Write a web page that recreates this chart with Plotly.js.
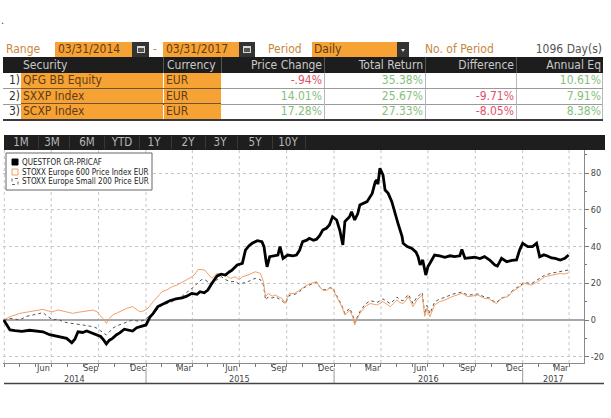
<!DOCTYPE html>
<html><head><meta charset="utf-8">
<script src="https://cdn.plot.ly/plotly-3.0.1.min.js"></script>
<style>
html,body{margin:0;padding:0;background:#fff;}
body{width:611px;height:418px;overflow:hidden;position:relative;font-family:'DejaVu Sans Condensed','DejaVu Sans',sans-serif;}
#chart{position:absolute;left:0;top:0;width:611px;height:418px;}
#hdr{position:absolute;left:0;top:0;width:611px;height:152px;pointer-events:none;}
.a{position:absolute;white-space:nowrap;box-sizing:border-box;overflow:hidden;}
</style></head><body>
<div id="chart"></div>
<div id="hdr"></div>
<script>
// ---------- header / table data ----------
const rangeStartLabel = '03/31/2014';
const rangeEndLabel = '03/31/2017';
const periodLabel = 'Daily';
const periodCount = '1096 Day(s)';
const tableHeaders = ['Security','Currency','Price Change','Total Return','Difference','Annual Eq'];
const securities = ['QFG BB Equity','SXXP Index','SCXP Index'];
const currencies = ['EUR','EUR','EUR'];
const priceChange = ['-.94%','14.01%','17.28%'];
const totalReturn = ['35.38%','25.67%','27.33%'];
const difference = ['','-9.71%','-8.05%'];
const annualEq = ['10.61%','7.91%','8.38%'];
const tabLabels = ['1M','3M','6M','YTD','1Y','2Y','3Y','5Y','10Y'];

// ---------- chart data ----------
const seriesNames = ['QUESTFOR GR-PRICAF','STOXX Europe 600 Price Index EUR','STOXX Europe Small 200 Price EUR'];
const questforDates = ['2014-03-31','2014-04-06','2014-04-12','2014-04-22','2014-05-05','2014-05-20','2014-06-03','2014-06-15','2014-06-28','2014-07-12','2014-07-22','2014-07-31','2014-08-10','2014-08-16','2014-08-22','2014-08-31','2014-09-08','2014-09-18','2014-09-28','2014-10-05','2014-10-11','2014-10-16','2014-10-22','2014-10-28','2014-11-05','2014-11-11','2014-11-20','2014-11-30','2014-12-06','2014-12-14','2014-12-22',
'2015-01-01','2015-01-09','2015-01-15','2015-01-24','2015-02-05','2015-02-16','2015-02-28','2015-03-12','2015-03-21','2015-03-31','2015-04-10','2015-04-16','2015-04-24','2015-05-01','2015-05-09','2015-05-19','2015-05-27','2015-06-04','2015-06-12','2015-06-17','2015-06-27','2015-07-07','2015-07-13','2015-07-20','2015-07-26','2015-08-05','2015-08-14','2015-08-18','2015-08-22','2015-08-24','2015-08-29','2015-09-06','2015-09-14','2015-09-18','2015-09-24','2015-10-03','2015-10-13','2015-10-20','2015-10-26','2015-11-01','2015-11-09','2015-11-14','2015-11-22','2015-11-28','2015-12-04','2015-12-10','2015-12-17','2015-12-23','2015-12-29',
'2016-01-06','2016-01-12','2016-01-18','2016-01-22','2016-01-31','2016-02-04','2016-02-10','2016-02-16','2016-02-20','2016-02-28','2016-03-05','2016-03-15','2016-03-21','2016-03-24','2016-03-26','2016-03-30','2016-04-05','2016-04-09','2016-04-15','2016-04-22','2016-04-28','2016-05-04','2016-05-12','2016-05-14','2016-05-22','2016-05-31','2016-06-08','2016-06-12','2016-06-16','2016-06-21','2016-06-27','2016-07-01','2016-07-05','2016-07-14','2016-07-24','2016-08-03','2016-08-13','2016-08-22','2016-09-01','2016-09-05','2016-09-11','2016-09-20','2016-09-30','2016-10-10','2016-10-19','2016-10-29','2016-11-08','2016-11-13','2016-11-21','2016-12-01','2016-12-11','2016-12-20','2016-12-26',
'2017-01-01','2017-01-11','2017-01-20','2017-01-28','2017-02-03','2017-02-11','2017-02-18','2017-02-26','2017-03-05','2017-03-15','2017-03-24','2017-03-31'];
const questforValues = [0,-3,-5.4,-5.8,-6.2,-5.6,-6.0,-6.4,-8.0,-9.0,-9.5,-10.0,-12.4,-10.5,-6.4,-6.8,-6.0,-7.2,-8.0,-9.0,-11,-13,-11,-10,-8,-7,-5,-5.5,-6,-4.2,-3.6,
-2.7,1.8,3.6,7.3,9.0,10.5,11.5,12.0,13.0,14.5,14.0,15.4,14.8,16.3,20.0,24,25,24.5,26.3,27.2,30,30.9,38.1,40.5,41.8,43.2,42.7,40,32,29,34.5,35,35.4,40,33.6,35.4,35.0,35.4,38,42.7,43.5,44.5,43.5,44,46,49,50,51.8,56.3,
54.5,49,40.9,53.6,56.3,59,54.5,58,62.7,63.5,64.5,69,75.4,76.3,74,82.7,79,70.8,69,64.5,58,52.7,45.4,41.8,40,39,37,34.5,30,32.7,24.5,29,30.9,35.4,34.9,34.2,35,34.5,35,38.5,33.6,34,34.2,33.5,34.5,32.7,30,29.4,33.6,31.8,32.5,32.7,38.1,
41.8,40,40,41.8,34.5,35.5,34.9,33.8,33.6,32.7,33.6,35.4];

const indexDates = ['2014-03-31','2014-04-12','2014-05-01','2014-05-14','2014-05-26','2014-06-05','2014-06-15','2014-06-24','2014-07-04','2014-07-14','2014-07-24','2014-08-02','2014-08-12','2014-08-22','2014-08-31','2014-09-10','2014-09-20','2014-09-28','2014-10-03','2014-10-11','2014-10-16','2014-10-22','2014-10-28','2014-11-07','2014-11-17','2014-11-26','2014-12-06','2014-12-14','2014-12-20','2014-12-28',
'2015-01-05','2015-01-15','2015-01-24','2015-02-01','2015-02-11','2015-02-21','2015-03-02','2015-03-12','2015-03-21','2015-03-31','2015-04-06','2015-04-12','2015-04-19','2015-04-25','2015-05-03','2015-05-09','2015-05-19','2015-05-27','2015-06-04','2015-06-14','2015-06-23','2015-07-01','2015-07-07','2015-07-18','2015-07-26','2015-08-01','2015-08-11','2015-08-17','2015-08-21','2015-08-26','2015-09-03','2015-09-09','2015-09-16','2015-09-22','2015-09-28','2015-10-03','2015-10-07','2015-10-17','2015-10-26','2015-11-01','2015-11-09','2015-11-18','2015-11-28','2015-12-04','2015-12-10','2015-12-17','2015-12-23','2015-12-29',
'2016-01-06','2016-01-12','2016-01-16','2016-01-22','2016-01-27','2016-01-31','2016-02-06','2016-02-10','2016-02-14','2016-02-20','2016-03-01','2016-03-11','2016-03-19','2016-03-24','2016-03-30','2016-04-05','2016-04-13','2016-04-19','2016-04-27','2016-05-02','2016-05-08','2016-05-14','2016-05-20','2016-05-24','2016-05-29','2016-06-02','2016-06-10','2016-06-16','2016-06-20','2016-06-25','2016-06-29','2016-07-05','2016-07-11','2016-07-14','2016-07-24','2016-08-03','2016-08-17','2016-08-26','2016-09-05','2016-09-17','2016-09-26','2016-10-06','2016-10-19','2016-10-29','2016-11-04','2016-11-11','2016-11-21','2016-12-03','2016-12-12','2016-12-20','2016-12-26',
'2017-01-05','2017-01-18','2017-01-30','2017-02-13','2017-02-26','2017-03-15','2017-03-22','2017-03-31'];
const stoxx600Values = [0,1.8,3.6,4.2,5.0,5.5,5.8,5.0,4.5,5.5,4.9,4.0,3.6,4.2,4.5,5.2,5.4,4.5,2.7,0.5,-1.8,0.8,2.7,4.0,5.4,6.5,7.3,5.5,4.5,5.0,
6.5,10,12.7,15.4,16.5,18.2,19,20.5,22,23.5,25,27.5,27.5,27.2,24.5,22.7,25.4,25.0,24.5,22.7,23.6,22,23.6,24.5,25.5,26.3,25.4,20.9,12.7,14.5,13.0,13.6,12.5,11.8,9.0,13,14.5,14.5,16.3,17.5,19,20,20.9,18.2,16.3,16.0,17.3,17,
12.7,10,7.3,2.7,4.5,5.4,2,-2.7,0,3.6,7.3,9.0,8.5,8.2,9,10,8.5,7.3,9.5,10.9,9.5,9,11,12.7,10,7.3,10.9,12.5,13.6,2.0,6.4,1.8,6.5,8.2,10,10.9,12.7,13.5,14.5,12.7,13.2,13.6,11.8,11.5,10,9,11.8,12.7,15.4,17,18.2,
20,19,20.9,23.6,24.5,25.4,25,25.7];
const small200Values = [0,0.9,0,2.0,2.7,3.5,4.0,2.0,0,0.5,-1,-1.5,-1.8,-2.2,-2.7,-3.2,-3.6,-4.5,-5.4,-7,-8.2,-6.5,-4.5,-3,-1.8,-1,0,-0.5,-0.8,0,
1.5,3.6,6,8,9,10,11.5,13,15,17,18.5,20.5,22,22,20.5,20,22,23.6,22,20.9,21,19.5,20,20.9,22,22.7,22,19,10.9,12.5,12,12.7,11.5,10.5,9,12,13.6,14,15.5,17,18.5,19.5,20.5,18,16.5,16.5,17.5,17.5,
13.5,10.5,8,3.5,5.5,6.5,3,-1.5,1,4.5,8.5,10.5,10,9.5,10.5,11.5,10,9,11,12.5,11,10.5,12.5,14,11.5,9,12.5,14,15,3.0,8,3.5,8,9.8,11.5,12.3,14,14.5,15.2,13.5,14,14.2,12.5,12,10.5,9.5,12,13,16,17.5,19,
20.5,19.8,21.8,24.5,25.5,26.5,26.5,27.3];

const monthLabels = ['Jun','Sep','Dec','Mar','Jun','Sep','Dec','Mar','Jun','Sep','Dec','Mar'];
const monthLabelDates = ['2014-06-16','2014-09-16','2014-12-16','2015-03-16','2015-06-16','2015-09-16','2015-12-16','2016-03-16','2016-06-16','2016-09-16','2016-12-16','2017-03-16'];
const yearLabels = ['2014','2015','2016','2017'];
const yTicks = [-20,0,20,40,60,80];
const yMinorTicks = [-10,10,30,50,70,90];

// ---------- header (HTML) ----------
const hdr = document.getElementById('hdr');
function box(l,t,w,h,css,text){
  const d=document.createElement('div');d.className='a';
  d.style.cssText='left:'+l+'px;top:'+t+'px;width:'+w+'px;height:'+h+'px;line-height:'+h+'px;'+(css||'');
  if(text!==undefined) d.textContent=text;
  hdr.appendChild(d);return d;
}
const ORANGE='#f7a234', BROWN='#5e3d16', LABEL='#c8873c', FS='font-size:12px;';
function cal(l,t,w){
  box(l,t,w,15,'background:#333;');
  box(l+Math.round(w/2)-4,t+4,8,7,'border:1px solid #d8d8d8;border-top:2px solid #d8d8d8;background:#555;');
}
box(1,15,8,12,'font-size:11px;color:#444;','.');
box(6,42,50,15,FS+'color:'+LABEL+';','Range');
box(55,42,77,15,FS+'background:'+ORANGE+';color:'+BROWN+';padding-left:3px;',rangeStartLabel);
cal(132,42,17);
box(150,42,10,15,FS+'color:'+LABEL+';text-align:center;','-');
box(163,42,76,15,FS+'background:'+ORANGE+';color:'+BROWN+';padding-left:3px;',rangeEndLabel);
cal(239,42,16);
box(268,42,45,15,FS+'color:'+LABEL+';','Period');
box(312,42,85,15,FS+'background:'+ORANGE+';color:'+BROWN+';padding-left:2px;',periodLabel);
box(397,42,12,15,'background:#333;');
box(401,49,0,0,'border-left:2px solid transparent;border-right:2px solid transparent;border-top:3px solid #ddd;width:4px;height:3px;');
box(425,42,90,15,FS+'color:'+LABEL+';','No. of Period');
box(480,42,122,15,FS+'color:#555;text-align:right;',periodCount);

// table
const colX=[3,21,163,221,324,425,516,603];
box(3,57,600,16,'background:#1d1d1d;');
box(23,57,138,16,FS+'color:#c9c9c9;',tableHeaders[0]);
box(167,57,54,16,FS+'color:#c9c9c9;',tableHeaders[1]);
for(let c=2;c<6;c++){
  box(colX[c+1],57,colX[c+2]-colX[c+1]-2,16,FS+'color:#c9c9c9;text-align:right;',tableHeaders[c]);
}
[163,221,324,425,516].forEach(x=>box(x,57,1,16,'background:#555;'));
const cols=[priceChange,totalReturn,difference,annualEq];
for(let i=0;i<3;i++){
  const t=73+i*15.5, h=15.5;
  box(3,t,17,h,FS+'color:#333;text-align:right;',(i+1)+')');
  box(21,t,142,h,FS+'background:'+ORANGE+';color:'+BROWN+';padding-left:2px;',securities[i]);
  box(164,t,57,h,FS+'background:'+ORANGE+';color:'+BROWN+';padding-left:2px;',currencies[i]);
  cols.forEach((arr,k)=>{
    const v=arr[i];
    const col=v.charAt(0)==='-'?'#e0506c':'#86be7c';
    box(colX[k+3],t,colX[k+4]-colX[k+3]-2,h,FS+'color:'+col+';text-align:right;',v);
  });
  [324,425,516,602].forEach(x=>box(x,t,1,h,'background:#b8b8b8;'));
  if(i<2){
    box(3,t+h-0.5,18,1,'background:#9a9a9a;');
    box(21,t+h-1,200,1.5,'background:#6e5434;');
    box(221,t+h-0.5,382,1,'background:#9a9a9a;');
  }
}
box(3,119,600,2,'background:#3a3a3a;');

// tab bar
box(4,135,601,15,'background:#1e1e1e;');
const tabCenters=[21,52,87,122,154,188,220,255,288];
tabLabels.forEach((lab,i)=>{
  box(tabCenters[i]-16,135,32,15,'font-size:11.5px;color:#b8b8b8;text-align:center;',lab);
  box(tabCenters[i]+16.5,136,1,13,'background:#383838;');
});

// ---------- chart (Plotly) ----------
const L=3,R=584,T=150,B=363;
const px=x=>(x-L)/(R-L), py=y=>(B-y)/(B-T);
const xRange=['2014-03-29 12:00','2017-04-30'];
const yRange=[-23.43,92.64];

function iso(y,m){return y+'-'+String(m+1).padStart(2,'0')+'-01';}
const monthStarts=[], quarterStarts=[];
for(let y=2014;y<=2017;y++){for(let m=0;m<12;m++){
  const d=iso(y,m);
  if(d>='2014-04-01' && d<='2017-04-01'){monthStarts.push(d); if(m%3===0) quarterStarts.push(d);}
}}
function mid(a,b){return new Date((Date.parse(a)+Date.parse(b))/2).toISOString().slice(0,10);}

const shapes=[];
quarterStarts.forEach(d=>shapes.push({type:'line',xref:'x',yref:'paper',x0:d,x1:d,y0:0,y1:1,layer:'below',line:{color:'#c6c6c6',width:1,dash:'dot'}}));
yearLabels.slice(1).forEach(y=>{const d=y+'-01-01';shapes.push({type:'line',xref:'x',yref:'paper',x0:d,x1:d,y0:py(368),y1:py(383),line:{color:'#9a9a9a',width:1}});});
shapes.push({type:'line',xref:'paper',yref:'paper',x0:px(4),x1:px(604),y0:py(383.5),y1:py(383.5),line:{color:'#444',width:1.5}});
// legend
shapes.push({type:'rect',xref:'paper',yref:'paper',x0:px(6),x1:px(152),y0:py(190),y1:py(153),fillcolor:'#fff',line:{color:'#666',width:1},layer:'above'});
const legRows=[162,172,181.5];
const legStyles=[{fill:'#000',line:'#000',dash:'solid'},{fill:'#fff',line:'#f0a060',dash:'solid'},{fill:'#fff',line:'#666',dash:'dot'}];
legRows.forEach((yc,i)=>shapes.push({type:'rect',xref:'paper',yref:'paper',x0:px(12),x1:px(18),y0:py(yc+3),y1:py(yc-3),fillcolor:legStyles[i].fill,line:{color:legStyles[i].line,width:1,dash:legStyles[i].dash},layer:'above'}));

const annotations=[];
legRows.forEach((yc,i)=>annotations.push({xref:'paper',yref:'paper',x:px(20),y:py(yc),xanchor:'left',yanchor:'middle',text:seriesNames[i],showarrow:false,font:{size:8,color:'#222'}}));
yearLabels.forEach((y,i)=>{
  const s = (y+'-01-01')>xRange[0].slice(0,10)? y+'-01-01' : xRange[0].slice(0,10);
  const e0 = (+y+1)+'-01-01';
  const e = e0<xRange[1]? e0 : xRange[1];
  annotations.push({xref:'x',yref:'paper',x:mid(s,e),y:py(379),xanchor:'center',yanchor:'middle',text:y,showarrow:false,font:{size:9,color:'#444'}});
});

const traces=[
  {x:indexDates,y:small200Values,type:'scatter',mode:'lines',name:seriesNames[2],line:{color:'#555',width:1,dash:'dot'},hoverinfo:'skip'},
  {x:indexDates,y:stoxx600Values,type:'scatter',mode:'lines',name:seriesNames[1],line:{color:'#f2a066',width:1},hoverinfo:'skip'},
  {x:questforDates,y:questforValues,type:'scatter',mode:'lines',name:seriesNames[0],line:{color:'#000',width:2.8},hoverinfo:'skip'}
];

const layout={
  width:611,height:418,margin:{l:L,r:611-R,t:T,b:418-B,pad:0},
  paper_bgcolor:'rgba(0,0,0,0)',plot_bgcolor:'#fff',showlegend:false,
  font:{family:'DejaVu Sans Condensed, DejaVu Sans, sans-serif',size:9,color:'#444'},
  xaxis:{type:'date',range:xRange,tickmode:'array',tickvals:monthLabelDates,ticktext:monthLabels,ticks:'',showgrid:false,zeroline:false,
    showline:true,linecolor:'#8a8a8a',linewidth:1,tickfont:{size:9,color:'#444'},ticklabelstandoff:-4,
    minor:{tickmode:'array',tickvals:monthStarts,ticks:'outside',ticklen:3,tickwidth:1,tickcolor:'#777',showgrid:false}},
  yaxis:{range:yRange,side:'right',tickmode:'array',tickvals:yTicks,ticktext:yTicks.map(String),ticks:'outside',ticklen:4,tickcolor:'#777',
    showline:true,linecolor:'#8a8a8a',linewidth:1,gridcolor:'#c6c6c6',griddash:'dot',gridwidth:1,
    zeroline:true,zerolinecolor:'#a8a8a8',zerolinewidth:2,tickfont:{size:9,color:'#444'},
    minor:{tickmode:'array',tickvals:yMinorTicks,ticks:'outside',ticklen:2,tickwidth:1,tickcolor:'#777',showgrid:false}},
  shapes:shapes,annotations:annotations
};
Plotly.newPlot('chart',traces,layout,{displayModeBar:false,staticPlot:true});
</script></body></html>
